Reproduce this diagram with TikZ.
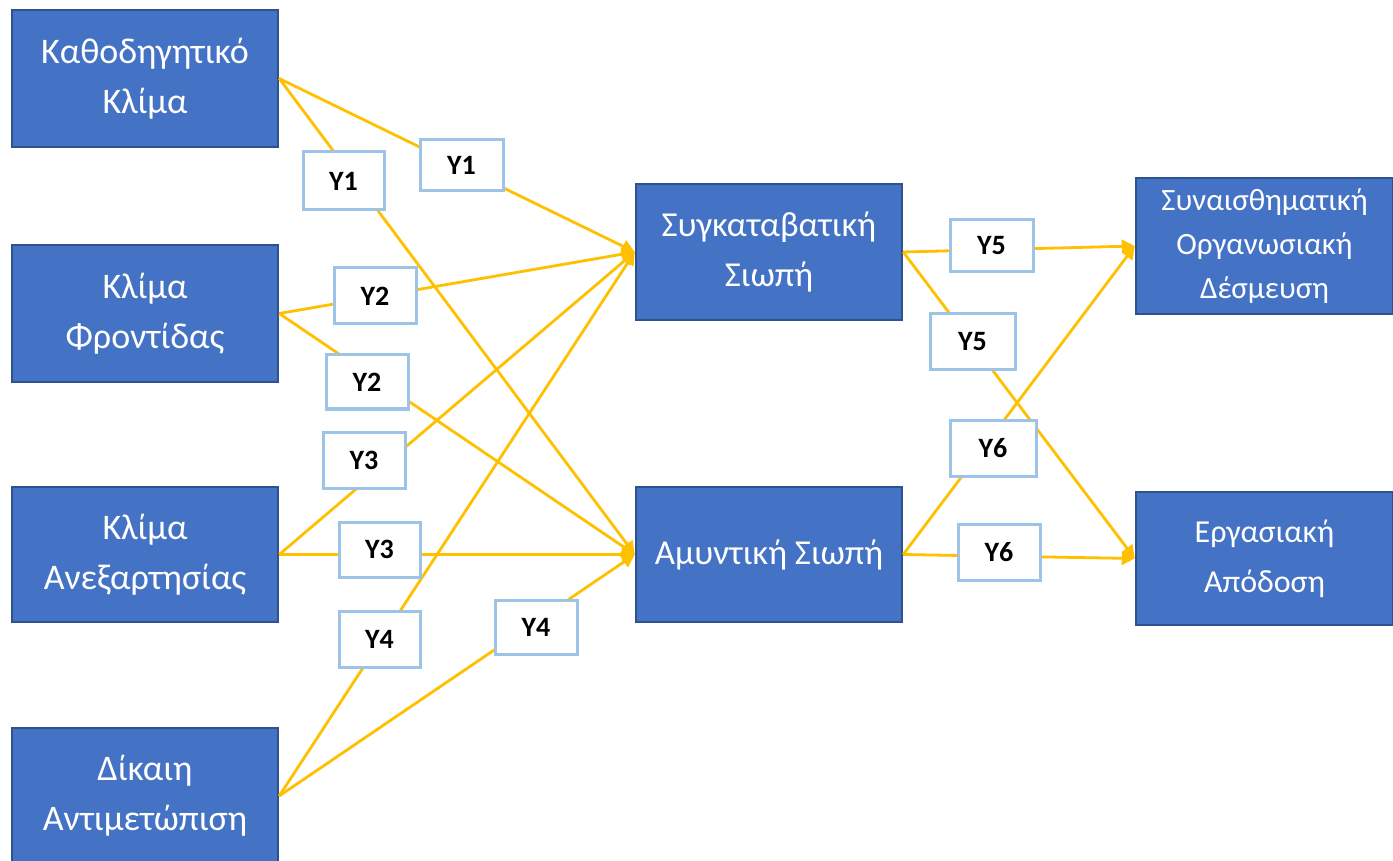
\documentclass[tikz,border=0pt]{standalone}
\usepackage{fontspec}
\setmainfont{Carlito}
\usetikzlibrary{arrows.meta}
\definecolor{boxfill}{HTML}{4472C4}
\definecolor{boxline}{HTML}{2F528F}
\definecolor{arrowc}{HTML}{FFC000}
\definecolor{labline}{HTML}{9DC3E6}
\tikzset{
  varbox/.style={draw=boxline, line width=1.2pt, fill=boxfill, text=white, align=center,
    font=\fontsize{18}{25}\selectfont, inner sep=0pt},
  lab/.style={draw=labline, line width=1.5pt, fill=white, text=black,
    font=\fontsize{14}{16}\selectfont\bfseries, inner sep=0pt},
  conn/.style={draw=arrowc, line width=1.4pt, -{Triangle[length=6.5pt,width=6.5pt]}},
}
\begin{document}
\begin{tikzpicture}[x=0.5pt,y=-0.5pt]
\useasboundingbox (0,0) rectangle (1393,861);
\clip (0,0) rectangle (1393,861);
\fill[white] (0,0) rectangle (1393,861);
% boxes
\node[varbox, minimum width=133pt, minimum height=68.5pt] (kath) at (145,78.5) {Καθοδηγητικό\\Κλίμα};
\node[varbox, minimum width=133pt, minimum height=68.5pt] (fron) at (145,313.5) {Κλίμα\\Φροντίδας};
\node[varbox, minimum width=133pt, minimum height=67.5pt] (anex) at (145,554.5) {Κλίμα\\Ανεξαρτησίας};
\node[varbox, minimum width=133pt, minimum height=68pt] (dik) at (145,796) {Δίκαιη\\Αντιμετώπιση};
\node[varbox, minimum width=133pt, minimum height=68pt, font=\fontsize{17.5}{25}\selectfont] (syg) at (769,252) {Συγκαταβατική\\Σιωπή};
\node[varbox, minimum width=133pt, minimum height=67.5pt, font=\fontsize{17.5}{25}\selectfont] (amyn) at (769,554.5) {Αμυντική Σιωπή};
\node[varbox, minimum width=128.5pt, minimum height=68pt, font=\fontsize{15.5}{22}\selectfont] (syn) at (1264.5,246) {Συναισθηματική\\Οργανωσιακή\\Δέσμευση};
\node[varbox, minimum width=128.5pt, minimum height=66.5pt, font=\fontsize{16}{25}\selectfont] (erg) at (1264.5,558.5) {Εργασιακή\\Απόδοση};
% connectors
\draw[conn] (kath.east) -- (syg.west);
\draw[conn] (kath.east) -- (amyn.west);
\draw[conn] (fron.east) -- (syg.west);
\draw[conn] (fron.east) -- (amyn.west);
\draw[conn] (anex.east) -- (syg.west);
\draw[conn] (anex.east) -- (amyn.west);
\draw[conn] (dik.east) -- (syg.west);
\draw[conn] (dik.east) -- (amyn.west);
\draw[conn] (syg.east) -- (syn.west);
\draw[conn] (syg.east) -- (erg.west);
\draw[conn] (amyn.east) -- (syn.west);
\draw[conn] (amyn.east) -- (erg.west);
% labels
\node[lab, minimum width=40.5pt, minimum height=29pt] (l1a) at (343.5,181) {Y1};
\node[lab, minimum width=41.5pt, minimum height=25.5pt] (l1b) at (461.5,165.5) {Y1};
\node[lab, minimum width=41pt, minimum height=28pt] (l2a) at (375,296) {Y2};
\node[lab, minimum width=41pt, minimum height=27pt] (l2b) at (367,382) {Y2};
\node[lab, minimum width=41pt, minimum height=28pt] (l3a) at (364,460) {Y3};
\node[lab, minimum width=40.5pt, minimum height=27.5pt] (l3b) at (379.5,549.5) {Y3};
\node[lab, minimum width=40.5pt, minimum height=28pt] (l4a) at (379.5,639) {Y4};
\node[lab, minimum width=41pt, minimum height=27pt] (l4b) at (536,627) {Y4};
\node[lab, minimum width=41.5pt, minimum height=26pt] (l5a) at (991.5,246) {Y5};
\node[lab, minimum width=42.5pt, minimum height=28pt] (l5b) at (972.5,342) {Y5};
\node[lab, minimum width=43pt, minimum height=28pt] (l6a) at (993,448) {Y6};
\node[lab, minimum width=41pt, minimum height=28pt] (l6b) at (999,552) {Y6};
\end{tikzpicture}
\end{document}
